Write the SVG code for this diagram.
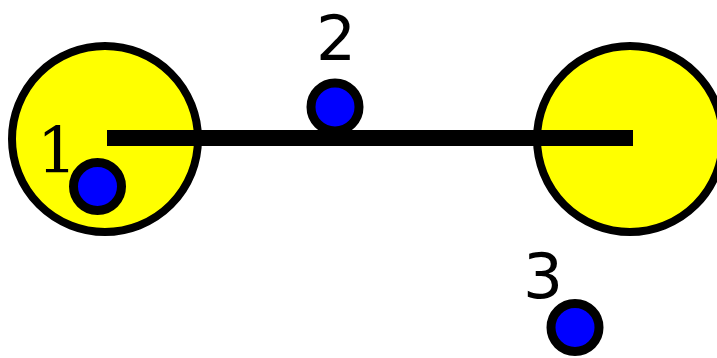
<svg xmlns="http://www.w3.org/2000/svg" width="717" height="358" viewBox="0 0 717 358">
<style>
.big{fill:#ffff00;stroke:#000;stroke-width:8}
.dot{fill:#0000ff;stroke:#000;stroke-width:9}
.lbl{font-family:"DejaVu Sans",sans-serif;font-size:63px;fill:#000;text-anchor:middle}
.ser{font-family:"DejaVu Serif",serif}
</style>
<rect width="717" height="358" fill="#fff"/>
<g id="ball-left"><circle class="big" cx="105" cy="139" r="93"/></g>
<g id="ball-right"><circle class="big" cx="630" cy="139" r="93"/></g>
<g id="node-2"><circle class="dot" cx="335" cy="107" r="24"/><text class="lbl" x="336" y="60">2</text></g>
<g id="connectors"><rect x="107" y="130" width="526" height="16" fill="#000"/></g>
<g id="node-1"><circle class="dot" cx="97.5" cy="186.5" r="24"/><text class="lbl ser" x="57" y="173">1</text></g>
<g id="node-3"><circle class="dot" cx="575" cy="327.5" r="24"/><text class="lbl" x="543" y="298">3</text></g>
</svg>
